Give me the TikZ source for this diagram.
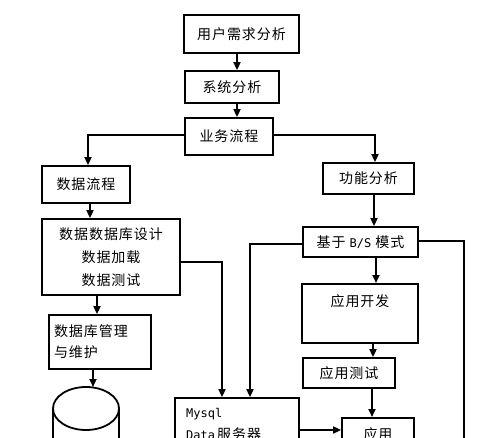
\documentclass[tikz,border=0pt]{standalone}
\usepackage{fontspec}
\setmainfont[LetterSpace=7]{Noto Sans CJK SC}
\newfontfamily\monof{DejaVu Sans Mono}
\usetikzlibrary{arrows.meta,calc}
\begin{document}
\begin{tikzpicture}[x=1pt,y=-1pt,
  box/.style={draw,line width=1.8pt,rectangle,inner sep=0pt,font=\fontsize{14}{23}\selectfont,align=center},
  arr/.style={line width=1.8pt,-{Triangle[length=8pt,width=7pt]}},
  ln/.style={line width=1.8pt}]
\useasboundingbox (0,0) rectangle (500,438);
\clip (0,0) rectangle (500,438);
\fill[white] (0,0) rectangle (500,438);
% boxes
\node[box,minimum width=115pt,minimum height=38pt] (u) at (241.5,34) {用户需求分析};
\node[box,minimum width=94pt,minimum height=32pt] (s) at (232,87) {系统分析};
\node[box,minimum width=88pt,minimum height=37pt] (yw) at (229,136.5) {业务流程};
\node[box,minimum width=88pt,minimum height=37pt] (sj) at (86,184.5) {数据流程};
\node[box,minimum width=91pt,minimum height=31pt] (gn) at (368.5,178.5) {功能分析};
\node[box,minimum width=138pt,minimum height=76pt] (des) at (111,257) {数据数据库设计\\数据加载\\数据测试};
\node[box,minimum width=102pt,minimum height=54pt,align=left,text width=92pt,font=\fontsize{14}{21}\selectfont] (mg) at (100,342) {数据库管理\\与维护};
\node[box,minimum width=124pt,minimum height=72pt] (my) at (237,434) {};
\node[font=\monof\fontsize{12}{22}\selectfont,anchor=north west,align=left,inner sep=0pt] (myt) at (186,408) {Mysql\\Data\,{\fontsize{14}{22}\selectfont\rmfamily 服务器}};
\node[box,minimum width=115pt,minimum height=30pt] (bs) at (360.5,242) {基于 {\monof\fontsize{12}{13}\selectfont B/S} 模式};
\node[box,minimum width=116pt,minimum height=59pt,anchor=north] (kf) at (360,283) {};
\node[font=\fontsize{14}{22}\selectfont,inner sep=0pt] (kft) at (360,301) {应用开发};
\node[box,minimum width=92pt,minimum height=30pt] (cs) at (349,373) {应用测试};
\node[box,minimum width=72pt,minimum height=64pt,anchor=north] (yy) at (378,417) {};
\node[font=\fontsize{14}{22}\selectfont,inner sep=0pt] (yyt) at (378,434) {应用};
% cylinder
\coordinate (cyl) at (86,408.5);
\draw[ln] (cyl) ellipse [x radius=33, y radius=21.5];
\draw[ln] ($(cyl)+(-33,0)$) -- ++(0,60);
\draw[ln] ($(cyl)+(33,0)$) -- ++(0,60);
% x positions
\coordinate (x237) at (237,0);
\coordinate (x374) at (374,0);
\coordinate (x90) at (90,0);
\coordinate (x97) at (97,0);
\coordinate (x93) at (93,0);
\coordinate (x222) at (222,0);
\coordinate (x250) at (250,0);
\coordinate (x376) at (376,0);
\coordinate (x373) at (373,0);
\coordinate (x372) at (372,0);
\coordinate (cyltop) at (93,387);
\coordinate (rend) at (464,500);
% connectors
\draw[arr] (u.south -| x237) -- (s.north -| x237);
\draw[arr] (s.south -| x237) -- (yw.north -| x237);
\draw[arr] ([yshift=1.5pt]yw.west) -| ([xshift=2pt]sj.north);
\draw[arr] ([yshift=1.5pt]yw.east) -| ([xshift=6.5pt]gn.north);
\draw[arr] (gn.south -| x374) -- (bs.north -| x374);
\draw[arr] (sj.south -| x90) -- (des.north -| x90);
\draw[arr] (des.south -| x97) -- (mg.north -| x97);
\draw[arr] (mg.south -| x93) -- (cyltop);
\draw[arr] ([yshift=-5pt]des.east) -| (my.north -| x222);
\draw[arr] ([yshift=-2pt]bs.west) -| (my.north -| x250);
\draw[ln] ([yshift=1pt]bs.east) -| (rend);
\draw[arr] (bs.south -| x376) -- (kf.north -| x376);
\draw[arr] (kf.south -| x373) -- (cs.north -| x373);
\draw[arr] (cs.south -| x372) -- (yy.north -| x372);
\draw[arr] (my.east |- 0,430) -- (yy.west |- 0,430);
\end{tikzpicture}
\end{document}
